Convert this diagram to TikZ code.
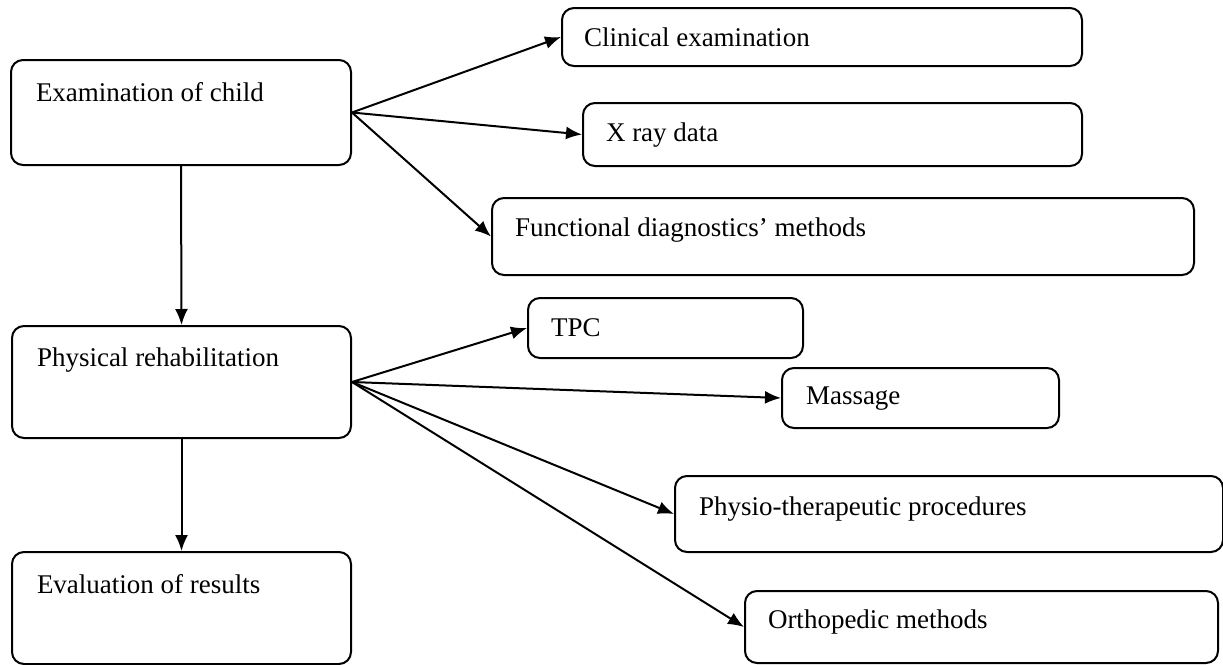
\documentclass[tikz,border=0pt]{standalone}
\usepackage{fontspec}
\setmainfont{Liberation Serif}
\usetikzlibrary{arrows.meta}
\tikzset{
  box/.style={draw, line width=2pt, rounded corners=12pt, anchor=north west,
    inner ysep=0pt, align=flush left, font=\fontsize{27}{32}\selectfont},
  conn/.style={line width=2pt, -{Latex[length=16pt,width=13pt]}}
}
\begin{document}
\begin{tikzpicture}[x=1pt,y=-1pt]
\useasboundingbox (0,0) rectangle (1223,664);
\node[box, inner xsep=25pt, text width=290pt, text height=41pt, text depth=64pt] (exam) at (10,59) {Examination of child};
\node[box, inner xsep=22pt, text width=476pt, text height=38pt, text depth=20pt] (clin) at (561,7) {Clinical examination};
\node[box, inner xsep=23pt, text width=453pt, text height=38pt, text depth=25pt] (xray) at (582,102) {X ray data};
\node[box, inner xsep=23pt, text width=656pt, text height=38pt, text depth=39pt] (func) at (491,197) {Functional diagnostics’ methods};
\node[box, inner xsep=25pt, text width=289pt, text height=40pt, text depth=72pt] (phys) at (11,325) {Physical rehabilitation};
\node[box, inner xsep=23pt, text width=229pt, text height=38pt, text depth=22pt] (tpc) at (527,297) {TPC};
\node[box, inner xsep=24pt, text width=229pt, text height=36pt, text depth=24pt] (mass) at (781,367) {Massage};
\node[box, inner xsep=24pt, text width=500pt, text height=39pt, text depth=37pt] (physio) at (674,475) {Physio-therapeutic procedures};
\node[box, inner xsep=25pt, text width=289pt, text height=41pt, text depth=71pt] (eval) at (11,551) {Evaluation of results};
\node[box, inner xsep=23pt, text width=427pt, text height=37pt, text depth=35pt] (ortho) at (744,590) {Orthopedic methods};
\draw[conn] (exam.east) -- (clin.west);
\draw[conn] (exam.east) -- (xray.west);
\draw[conn] (exam.east) -- (func.west);
\draw[conn] (exam.south) -- (phys.north);
\draw[conn] (phys.east) -- (tpc.west);
\draw[conn] (phys.east) -- (mass.west);
\draw[conn] (phys.east) -- (physio.west);
\draw[conn] (phys.east) -- (ortho.west);
\draw[conn] (phys.south) -- (eval.north);
\end{tikzpicture}
\end{document}
